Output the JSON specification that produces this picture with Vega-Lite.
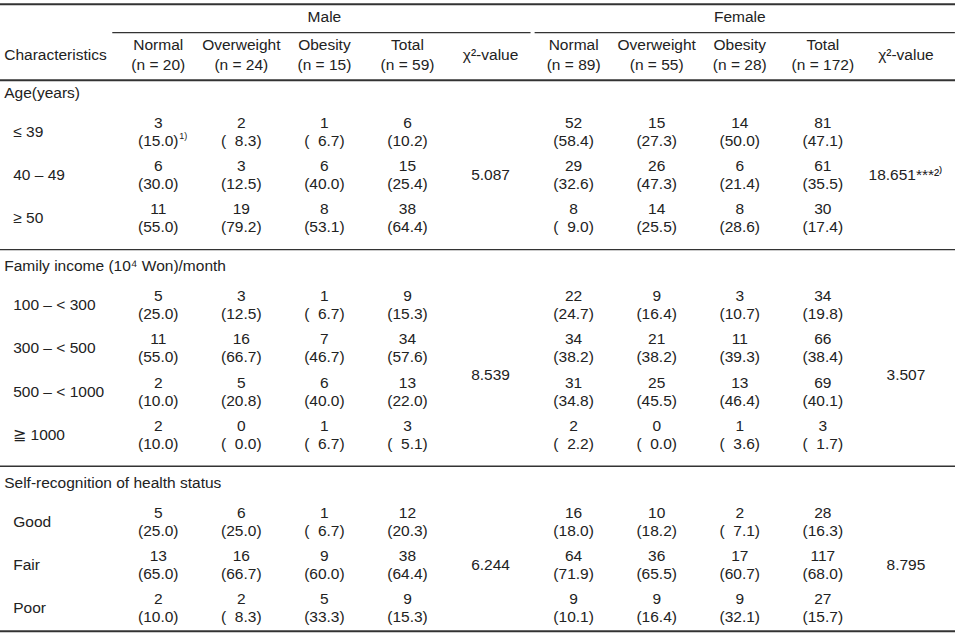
{
  "$schema": "https://vega.github.io/schema/vega-lite/v6.json",
  "width": 955,
  "height": 644,
  "autosize": {"type": "none"},
  "padding": 0,
  "background": "white",
  "config": {
    "view": {"stroke": null},
    "text": {"font": "Liberation Sans", "fontSize": 15.5, "color": "#222222", "baseline": "middle"},
    "rule": {"color": "#333333"}
  },
  "datasets": {
    "cells": [
      {"row": "≤ 39", "col": "Male Normal", "n": 3, "pct": 15.0, "note": "1)"},
      {"row": "≤ 39", "col": "Male Overweight", "n": 2, "pct": 8.3},
      {"row": "≤ 39", "col": "Male Obesity", "n": 1, "pct": 6.7},
      {"row": "≤ 39", "col": "Male Total", "n": 6, "pct": 10.2},
      {"row": "≤ 39", "col": "Female Normal", "n": 52, "pct": 58.4},
      {"row": "≤ 39", "col": "Female Overweight", "n": 15, "pct": 27.3},
      {"row": "≤ 39", "col": "Female Obesity", "n": 14, "pct": 50.0},
      {"row": "≤ 39", "col": "Female Total", "n": 81, "pct": 47.1},
      {"row": "40 – 49", "col": "Male Normal", "n": 6, "pct": 30.0},
      {"row": "40 – 49", "col": "Male Overweight", "n": 3, "pct": 12.5},
      {"row": "40 – 49", "col": "Male Obesity", "n": 6, "pct": 40.0},
      {"row": "40 – 49", "col": "Male Total", "n": 15, "pct": 25.4},
      {"row": "40 – 49", "col": "Female Normal", "n": 29, "pct": 32.6},
      {"row": "40 – 49", "col": "Female Overweight", "n": 26, "pct": 47.3},
      {"row": "40 – 49", "col": "Female Obesity", "n": 6, "pct": 21.4},
      {"row": "40 – 49", "col": "Female Total", "n": 61, "pct": 35.5},
      {"row": "≥ 50", "col": "Male Normal", "n": 11, "pct": 55.0},
      {"row": "≥ 50", "col": "Male Overweight", "n": 19, "pct": 79.2},
      {"row": "≥ 50", "col": "Male Obesity", "n": 8, "pct": 53.1},
      {"row": "≥ 50", "col": "Male Total", "n": 38, "pct": 64.4},
      {"row": "≥ 50", "col": "Female Normal", "n": 8, "pct": 9.0},
      {"row": "≥ 50", "col": "Female Overweight", "n": 14, "pct": 25.5},
      {"row": "≥ 50", "col": "Female Obesity", "n": 8, "pct": 28.6},
      {"row": "≥ 50", "col": "Female Total", "n": 30, "pct": 17.4},
      {"row": "100 – < 300", "col": "Male Normal", "n": 5, "pct": 25.0},
      {"row": "100 – < 300", "col": "Male Overweight", "n": 3, "pct": 12.5},
      {"row": "100 – < 300", "col": "Male Obesity", "n": 1, "pct": 6.7},
      {"row": "100 – < 300", "col": "Male Total", "n": 9, "pct": 15.3},
      {"row": "100 – < 300", "col": "Female Normal", "n": 22, "pct": 24.7},
      {"row": "100 – < 300", "col": "Female Overweight", "n": 9, "pct": 16.4},
      {"row": "100 – < 300", "col": "Female Obesity", "n": 3, "pct": 10.7},
      {"row": "100 – < 300", "col": "Female Total", "n": 34, "pct": 19.8},
      {"row": "300 – < 500", "col": "Male Normal", "n": 11, "pct": 55.0},
      {"row": "300 – < 500", "col": "Male Overweight", "n": 16, "pct": 66.7},
      {"row": "300 – < 500", "col": "Male Obesity", "n": 7, "pct": 46.7},
      {"row": "300 – < 500", "col": "Male Total", "n": 34, "pct": 57.6},
      {"row": "300 – < 500", "col": "Female Normal", "n": 34, "pct": 38.2},
      {"row": "300 – < 500", "col": "Female Overweight", "n": 21, "pct": 38.2},
      {"row": "300 – < 500", "col": "Female Obesity", "n": 11, "pct": 39.3},
      {"row": "300 – < 500", "col": "Female Total", "n": 66, "pct": 38.4},
      {"row": "500 – < 1000", "col": "Male Normal", "n": 2, "pct": 10.0},
      {"row": "500 – < 1000", "col": "Male Overweight", "n": 5, "pct": 20.8},
      {"row": "500 – < 1000", "col": "Male Obesity", "n": 6, "pct": 40.0},
      {"row": "500 – < 1000", "col": "Male Total", "n": 13, "pct": 22.0},
      {"row": "500 – < 1000", "col": "Female Normal", "n": 31, "pct": 34.8},
      {"row": "500 – < 1000", "col": "Female Overweight", "n": 25, "pct": 45.5},
      {"row": "500 – < 1000", "col": "Female Obesity", "n": 13, "pct": 46.4},
      {"row": "500 – < 1000", "col": "Female Total", "n": 69, "pct": 40.1},
      {"row": "≧ 1000", "col": "Male Normal", "n": 2, "pct": 10.0},
      {"row": "≧ 1000", "col": "Male Overweight", "n": 0, "pct": 0.0},
      {"row": "≧ 1000", "col": "Male Obesity", "n": 1, "pct": 6.7},
      {"row": "≧ 1000", "col": "Male Total", "n": 3, "pct": 5.1},
      {"row": "≧ 1000", "col": "Female Normal", "n": 2, "pct": 2.2},
      {"row": "≧ 1000", "col": "Female Overweight", "n": 0, "pct": 0.0},
      {"row": "≧ 1000", "col": "Female Obesity", "n": 1, "pct": 3.6},
      {"row": "≧ 1000", "col": "Female Total", "n": 3, "pct": 1.7},
      {"row": "Good", "col": "Male Normal", "n": 5, "pct": 25.0},
      {"row": "Good", "col": "Male Overweight", "n": 6, "pct": 25.0},
      {"row": "Good", "col": "Male Obesity", "n": 1, "pct": 6.7},
      {"row": "Good", "col": "Male Total", "n": 12, "pct": 20.3},
      {"row": "Good", "col": "Female Normal", "n": 16, "pct": 18.0},
      {"row": "Good", "col": "Female Overweight", "n": 10, "pct": 18.2},
      {"row": "Good", "col": "Female Obesity", "n": 2, "pct": 7.1},
      {"row": "Good", "col": "Female Total", "n": 28, "pct": 16.3},
      {"row": "Fair", "col": "Male Normal", "n": 13, "pct": 65.0},
      {"row": "Fair", "col": "Male Overweight", "n": 16, "pct": 66.7},
      {"row": "Fair", "col": "Male Obesity", "n": 9, "pct": 60.0},
      {"row": "Fair", "col": "Male Total", "n": 38, "pct": 64.4},
      {"row": "Fair", "col": "Female Normal", "n": 64, "pct": 71.9},
      {"row": "Fair", "col": "Female Overweight", "n": 36, "pct": 65.5},
      {"row": "Fair", "col": "Female Obesity", "n": 17, "pct": 60.7},
      {"row": "Fair", "col": "Female Total", "n": 117, "pct": 68.0},
      {"row": "Poor", "col": "Male Normal", "n": 2, "pct": 10.0},
      {"row": "Poor", "col": "Male Overweight", "n": 2, "pct": 8.3},
      {"row": "Poor", "col": "Male Obesity", "n": 5, "pct": 33.3},
      {"row": "Poor", "col": "Male Total", "n": 9, "pct": 15.3},
      {"row": "Poor", "col": "Female Normal", "n": 9, "pct": 10.1},
      {"row": "Poor", "col": "Female Overweight", "n": 9, "pct": 16.4},
      {"row": "Poor", "col": "Female Obesity", "n": 9, "pct": 32.1},
      {"row": "Poor", "col": "Female Total", "n": 27, "pct": 15.7}
    ],
    "chi": [
      {"row": "40 – 49", "col": "Male χ²", "value": "5.087", "shift": "no"},
      {"row": "40 – 49", "col": "Female χ²", "value": "18.651***²⁾", "shift": "no"},
      {"row": "500 – < 1000", "col": "Male χ²", "value": "8.539", "shift": "up"},
      {"row": "500 – < 1000", "col": "Female χ²", "value": "3.507", "shift": "up"},
      {"row": "Fair", "col": "Male χ²", "value": "6.244", "shift": "no"},
      {"row": "Fair", "col": "Female χ²", "value": "8.795", "shift": "no"}
    ],
    "colheads": [
      {"row": "colhdr", "col": "Male Normal", "label": "Normal\n(n = 20)"},
      {"row": "colhdr", "col": "Male Overweight", "label": "Overweight\n(n = 24)"},
      {"row": "colhdr", "col": "Male Obesity", "label": "Obesity\n(n = 15)"},
      {"row": "colhdr", "col": "Male Total", "label": "Total\n(n = 59)"},
      {"row": "colhdr", "col": "Female Normal", "label": "Normal\n(n = 89)"},
      {"row": "colhdr", "col": "Female Overweight", "label": "Overweight\n(n = 55)"},
      {"row": "colhdr", "col": "Female Obesity", "label": "Obesity\n(n = 28)"},
      {"row": "colhdr", "col": "Female Total", "label": "Total\n(n = 172)"}
    ],
    "singleheads": [
      {"row": "colhdr", "col": "Male χ²", "label": "χ²-value"},
      {"row": "colhdr", "col": "Female χ²", "label": "χ²-value"}
    ],
    "sexheads": [
      {"row": "sexhdr", "col": "Male Obesity", "label": "Male"},
      {"row": "sexhdr", "col": "Female Obesity", "label": "Female"}
    ],
    "sections": [
      {"row": "Age(years)", "col": "label"},
      {"row": "Family income (10⁴ Won)/month", "col": "label"},
      {"row": "Self-recognition of health status", "col": "label"}
    ],
    "items": [
      {"row": "≤ 39", "col": "label"},
      {"row": "40 – 49", "col": "label"},
      {"row": "≥ 50", "col": "label"},
      {"row": "100 – < 300", "col": "label"},
      {"row": "300 – < 500", "col": "label"},
      {"row": "500 – < 1000", "col": "label"},
      {"row": "≧ 1000", "col": "label"},
      {"row": "Good", "col": "label"},
      {"row": "Fair", "col": "label"},
      {"row": "Poor", "col": "label"}
    ]
  },
  "layer": [
    {
      "data": {"values": [{"row": "sexhdr"}]},
      "mark": {"type": "rule", "strokeWidth": 2, "yOffset": 2.5},
      "encoding": {"y": {"field": "row", "type": "nominal", "axis": null, "scale": {"type": "point", "padding": 0, "range": [1.7, 608.2], "domain": ["sexhdr", "colhdr", "Age(years)", "≤ 39", "40 – 49", "≥ 50", "Family income (10⁴ Won)/month", "100 – < 300", "300 – < 500", "500 – < 1000", "≧ 1000", "Self-recognition of health status", "Good", "Fair", "Poor"]}}}
    },
    {
      "data": {"values": [{"row": "Age(years)"}]},
      "mark": {"type": "rule", "strokeWidth": 2, "yOffset": -8},
      "encoding": {"y": {"field": "row", "type": "nominal", "axis": null}}
    },
    {
      "data": {"values": [{"row": "Family income (10⁴ Won)/month"}, {"row": "Self-recognition of health status"}]},
      "mark": {"type": "rule", "strokeWidth": 1.4, "yOffset": -12},
      "encoding": {"y": {"field": "row", "type": "nominal", "axis": null}}
    },
    {
      "data": {"values": [{"row": "Poor"}]},
      "mark": {"type": "rule", "strokeWidth": 2, "yOffset": 23},
      "encoding": {"y": {"field": "row", "type": "nominal", "axis": null}}
    },
    {
      "data": {"values": [{"row": "sexhdr", "from": "Male Normal", "to": "Male χ²"}]},
      "mark": {"type": "rule", "strokeWidth": 1.2, "yOffset": 31, "xOffset": -46, "x2Offset": 40},
      "encoding": {
        "y": {"field": "row", "type": "nominal", "axis": null},
        "x": {"field": "from", "type": "nominal", "axis": null, "scale": {"type": "point", "padding": 0, "range": [75.2, 905.9], "domain": ["label", "Male Normal", "Male Overweight", "Male Obesity", "Male Total", "Male χ²", "Female Normal", "Female Overweight", "Female Obesity", "Female Total", "Female χ²"]}},
        "x2": {"field": "to"}
      }
    },
    {
      "data": {"values": [{"row": "sexhdr", "from": "Female Normal", "to": "Female χ²"}]},
      "mark": {"type": "rule", "strokeWidth": 1.2, "yOffset": 31, "xOffset": -39, "x2Offset": 49},
      "encoding": {
        "y": {"field": "row", "type": "nominal", "axis": null},
        "x": {"field": "from", "type": "nominal", "axis": null},
        "x2": {"field": "to"}
      }
    },
    {
      "data": {"name": "sexheads"},
      "mark": {"type": "text", "dy": 15, "align": "center"},
      "encoding": {
        "y": {"field": "row", "type": "nominal", "axis": null},
        "x": {"field": "col", "type": "nominal", "axis": null},
        "text": {"field": "label"}
      }
    },
    {
      "data": {"name": "colheads"},
      "mark": {"type": "text", "align": "center", "lineBreak": "\n", "lineHeight": 20, "baseline": "middle"},
      "encoding": {
        "y": {"field": "row", "type": "nominal", "axis": null},
        "x": {"field": "col", "type": "nominal", "axis": null},
        "text": {"field": "label"}
      }
    },
    {
      "data": {"name": "singleheads"},
      "mark": {"type": "text", "align": "center", "dy": 10},
      "encoding": {
        "y": {"field": "row", "type": "nominal", "axis": null},
        "x": {"field": "col", "type": "nominal", "axis": null},
        "text": {"field": "label"}
      }
    },
    {
      "data": {"values": [{"row": "colhdr", "col": "label", "label": "Characteristics"}]},
      "mark": {"type": "text", "dy": 10, "dx": -71, "align": "left"},
      "encoding": {
        "y": {"field": "row", "type": "nominal", "axis": null},
        "x": {"field": "col", "type": "nominal", "axis": null},
        "text": {"field": "label"}
      }
    },
    {
      "data": {"name": "sections"},
      "mark": {"type": "text", "dy": 4.5, "dx": -71, "align": "left"},
      "encoding": {
        "y": {"field": "row", "type": "nominal", "axis": null},
        "x": {"field": "col", "type": "nominal", "axis": null},
        "text": {"field": "row"}
      }
    },
    {
      "data": {"name": "items"},
      "mark": {"type": "text", "dx": -62, "align": "left"},
      "encoding": {
        "y": {"field": "row", "type": "nominal", "axis": null},
        "x": {"field": "col", "type": "nominal", "axis": null},
        "text": {"field": "row"}
      }
    },
    {
      "data": {"name": "cells"},
      "mark": {"type": "text", "dy": -9, "align": "center"},
      "encoding": {
        "y": {"field": "row", "type": "nominal", "axis": null},
        "x": {"field": "col", "type": "nominal", "axis": null},
        "text": {"field": "n", "type": "quantitative"}
      }
    },
    {
      "data": {"name": "cells"},
      "transform": [{"calculate": "'(' + (datum.pct < 10 ? '\u2007' : '') + format(datum.pct, '.1f') + ')'", "as": "pctLabel"}],
      "mark": {"type": "text", "dy": 9, "align": "center"},
      "encoding": {
        "y": {"field": "row", "type": "nominal", "axis": null},
        "x": {"field": "col", "type": "nominal", "axis": null},
        "text": {"field": "pctLabel"}
      }
    },
    {
      "data": {"name": "cells"},
      "transform": [{"filter": "datum.note"}],
      "mark": {"type": "text", "dy": 4, "dx": 21, "align": "left", "fontSize": 9},
      "encoding": {
        "y": {"field": "row", "type": "nominal", "axis": null},
        "x": {"field": "col", "type": "nominal", "axis": null},
        "text": {"field": "note"}
      }
    },
    {
      "data": {"name": "chi"},
      "transform": [{"filter": "datum.shift == 'no'"}],
      "mark": {"type": "text", "align": "center"},
      "encoding": {
        "y": {"field": "row", "type": "nominal", "axis": null},
        "x": {"field": "col", "type": "nominal", "axis": null},
        "text": {"field": "value"}
      }
    },
    {
      "data": {"name": "chi"},
      "transform": [{"filter": "datum.shift == 'up'"}],
      "mark": {"type": "text", "align": "center", "dy": -17},
      "encoding": {
        "y": {"field": "row", "type": "nominal", "axis": null},
        "x": {"field": "col", "type": "nominal", "axis": null},
        "text": {"field": "value"}
      }
    }
  ]
}
